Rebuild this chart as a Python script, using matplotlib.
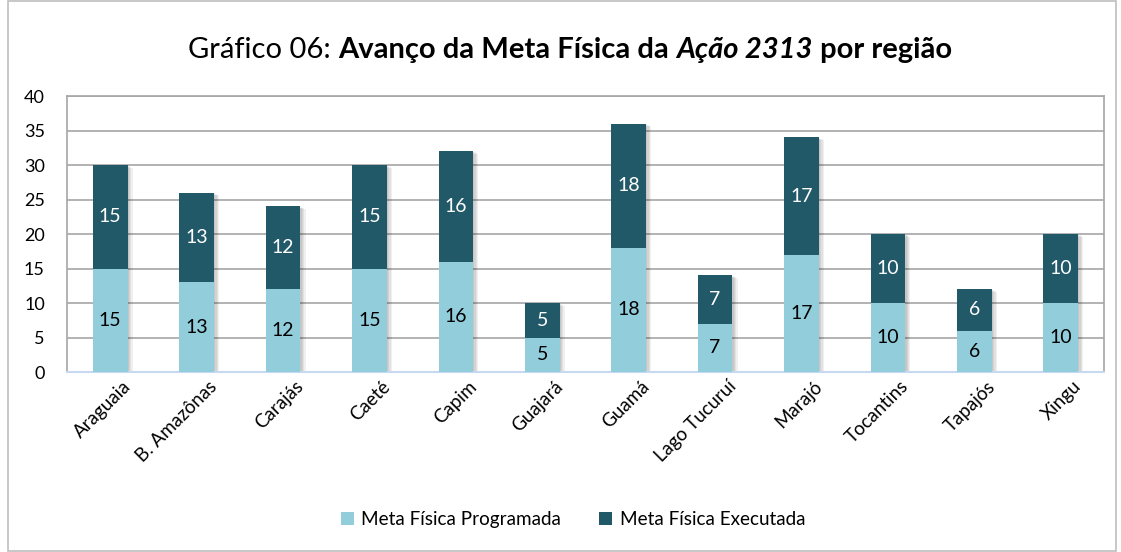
import matplotlib.pyplot as plt
import matplotlib.patches as mpatches
import matplotlib.transforms as mtransforms
import numpy as np

plt.rcParams['font.family'] = ['Lato', 'DejaVu Sans']

regioes = ["Araguaia", "B. Amazônas", "Carajás", "Caeté", "Capim", "Guajará",
           "Guamá", "Lago Tucuruí", "Marajó", "Tocantins", "Tapajós", "Xingu"]
programada = [15, 13, 12, 15, 16, 5, 18, 7, 17, 10, 6, 10]
executada = [15, 13, 12, 15, 16, 5, 18, 7, 17, 10, 6, 10]

cor_prog = "#92CDDC"
cor_exec = "#215968"

fig = plt.figure(figsize=(11.21, 5.52), dpi=100)
ax = fig.add_axes([0.0598, 0.326, 0.925, 0.5])

x = np.arange(len(regioes))
w = 0.4

# sombra suave atras das barras
for i, (p, e) in enumerate(zip(programada, executada)):
    for k in range(4):
        off = 0.015 + k * 0.015
        ax.add_patch(mpatches.Rectangle((x[i] - w / 2 + off, 0), w, p + e - off * 6,
                                        color="black", alpha=0.06, lw=0, zorder=2))

ax.bar(x, programada, w, color=cor_prog, zorder=3, label="Meta Física Programada")
ax.bar(x, executada, w, bottom=programada, color=cor_exec, zorder=3,
       label="Meta Física Executada")

for i, (p, e) in enumerate(zip(programada, executada)):
    ax.text(x[i], p / 2, str(p), ha="center", va="center", fontsize=14, color="black", zorder=4)
    ax.text(x[i], p + e / 2, str(e), ha="center", va="center", fontsize=14, color="white", zorder=4)

ax.set_xlim(-0.5, len(regioes) - 0.5)
ax.set_ylim(0, 40)
ax.set_yticks(range(0, 41, 5))
ax.yaxis.grid(True, color="#A6A6A6", lw=1.2, zorder=0)
ax.set_axisbelow(True)
ax.tick_params(axis="y", length=0, labelsize=13, pad=16)
ax.tick_params(axis="x", length=0, labelsize=13.5, pad=4)
ax.set_xticks(x)
ax.set_xticklabels(regioes, rotation=45, ha="right", rotation_mode="anchor")
for lbl in ax.get_xticklabels():
    lbl.set_transform(lbl.get_transform() + mtransforms.ScaledTranslation(0.12, 0, fig.dpi_scale_trans))

for s in ["left", "right", "top"]:
    ax.spines[s].set_color("#A6A6A6")
    ax.spines[s].set_linewidth(1.2)
ax.spines["bottom"].set_color("#C6D9F1")
ax.spines["bottom"].set_linewidth(1.5)

ax.legend(loc="center", bbox_to_anchor=(0.488, -0.535), ncol=2, frameon=False,
          fontsize=13.6, handlelength=0.7, handleheight=0.7, columnspacing=2.0,
          handletextpad=0.4)

# titulo com estilos misturados
partes = [("Gráfico 06: ", "normal", "normal"),
          ("Avanço da Meta Física da ", "bold", "normal"),
          ("Ação 2313", "bold", "italic"),
          (" por região", "bold", "normal")]
fig.canvas.draw()
r = fig.canvas.get_renderer()
textos = []
for s, wt, st in partes:
    t = fig.text(0, 0.91, s, fontsize=21, fontweight=wt, fontstyle=st, va="center")
    textos.append(t)
larg = [t.get_window_extent(r).width for t in textos]
total = sum(larg)
x0 = 570 - total / 2
for t, lw_ in zip(textos, larg):
    t.set_x(x0 / fig.bbox.width)
    x0 += lw_

fig.patches.append(mpatches.Rectangle((8 / 1121, 0.002), 1108 / 1121, 0.996, transform=fig.transFigure,
                                      fill=False, ec="#BFBFBF", lw=1.2))

fig.savefig("out.png", dpi=100)
